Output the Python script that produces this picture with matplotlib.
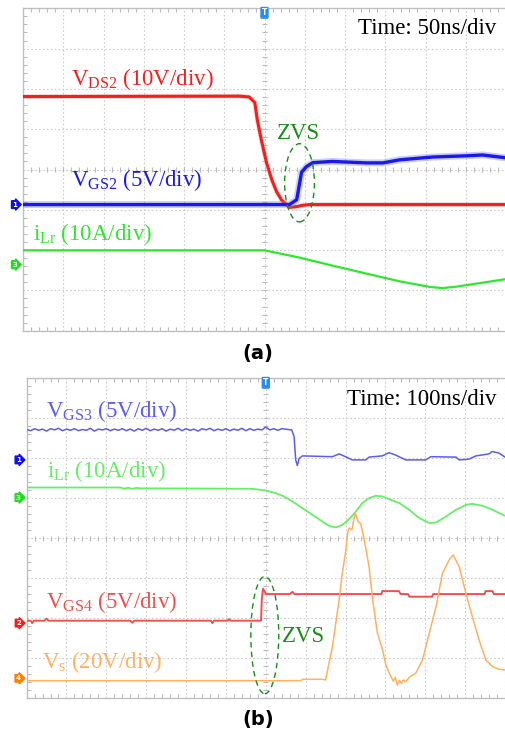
import numpy as np
import matplotlib
matplotlib.use('Agg')
import matplotlib.pyplot as plt
from matplotlib.patches import Ellipse
from matplotlib.ticker import MultipleLocator
import matplotlib.transforms as mtransforms

plt.rcParams['font.family'] = 'Liberation Serif'
plt.rcParams['mathtext.fontset'] = 'custom'
plt.rcParams['mathtext.rm'] = 'Liberation Serif'
plt.rcParams['mathtext.it'] = 'Liberation Serif:italic'

# ---- panel (a): 50 ns/div ----
t_vds2 = [-300, -31, -19, -12, -9, -4, 2.5, 9, 15, 21, 27, 31, 40, 47, 56, 300]
v_vds2 = [26.8, 26.9, 26.7, 25.3, 21.1, 16.1, 10.4, 6.2, 3.2, 1.2, 0, -0.7, -0.5, -0.2, 0, 0]

t_vgs2 = [-300, 31, 40, 46, 52, 60, 84, 127, 147, 168, 209, 251, 271, 300]
v_vgs2 = [0, 0, 0.6, 4.0, 4.7, 5.2, 5.35, 5.17, 5.17, 5.55, 5.9, 6.05, 6.15, 5.8]

t_ilr_a = [-300, 0, 43.5, 84.5, 126.7, 167.7, 205, 221, 238.5, 300]
i_ilr_a = [3.55, 3.55, 1.74, -0.25, -2.23, -4.14, -5.53, -5.83, -5.46, -3.6]

# ---- panel (b): 100 ns/div ----
t_vgs3 = [-600, -590, -580, -570, -560, -550, -540, -530, -520, -510, -500, -490,
          -480, -470, -460, -450, -440, -430, -420, -410, -400, -390, -380, -370,
          -360, -350, -340, -330, -320, -310, -300, -290, -280, -270, -260, -250,
          -240, -230, -220, -210, -200, -190, -180, -170, -160, -150, -140, -130,
          -120, -110, -100, -90, -80, -70, -60, -50, -40, -30, -20, -10, 0, 10, 20, 30, 40, 50,
          65, 71, 75, 79, 84, 92,
          167, 184, 200, 217, 251, 259, 292, 309, 326, 351, 401, 414, 477, 485,
          510, 527, 560, 568, 585, 600]
v_vgs3 = [3.8, 3.65, 3.9, 3.7, 3.85, 3.6, 3.9, 3.75, 3.95, 3.65, 3.85, 3.7,
          3.9, 3.65, 3.8, 3.7, 3.95, 3.6, 3.85, 3.75, 3.9, 3.65, 3.85, 3.7,
          3.9, 3.65, 3.85, 3.6, 3.9, 3.7, 3.95, 3.65, 3.85, 3.7, 3.9, 3.6,
          3.85, 3.7, 3.95, 3.65, 3.9, 3.7, 3.85, 3.6, 3.9, 3.75, 3.95, 3.65,
          3.85, 3.7, 3.9, 3.65, 3.85, 3.7, 3.95, 3.65, 3.9, 3.7, 3.85, 3.75, 4.1, 3.75, 3.9, 3.7, 3.9, 3.84,
          3.75, 2.9, 0, -0.7, 0.2, 0.5,
          0.4, 0.75, 0.4, 0, 0, 0.35, 0.5, 0.9, 0.6, 0, 0, 0.4, 0.35, 0,
          0.1, 0.5, 0.75, 1.05, 0.85, 0.35]

t_ilr_b = [-600, -365, -355, -345, -335, -325, -318, -34, 0, 25, 42, 67, 92, 117,
           142, 159, 176, 192, 209, 226, 242, 259, 276, 293, 309, 335, 360, 385,
           410, 427, 452, 477, 502, 518, 544, 569, 598]
i_ilr_b = [2.5, 2.5, 2.2, 2.45, 2.15, 2.4, 2.3, 2.18, 1.75, 1.1, 0.43, -1.0, -2.65, -4.33,
           -6.0, -7.08, -7.5, -6.83, -5.4, -3.5, -1.4, -0.15, 0.43, 0.25, -0.4, -1.4, -3.08, -5.15,
           -6.4, -6.25, -4.75, -3.08, -1.83, -1.58, -2.08, -3.08, -4.5]

t_vgs4 = [-600, -590, -586, -582, -555, -550, -545, -340, -335, -330, -138, -134, -130,
          -96, -92, -88, -12, -10, -7, -3, 0, 60, 67, 72, 290, 292, 334, 338, 357, 360,
          417, 420, 549, 551, 569, 572, 600]
v_vgs4 = [0.3, 0.3, 0.0, 0.3, 0.3, 0.55, 0.3, 0.3, 0.05, 0.3, 0.3, 0.0, 0.3,
          0.3, 0.5, 0.3, 0.3, 3.0, 4.3, 4.0, 3.63, 3.63, 3.9, 3.63, 3.63, 4.0, 4.0, 3.63, 3.63, 3.3,
          3.3, 3.63, 3.63, 4.0, 4.0, 3.63, 3.63]

t_vs = [-600, 88, 92, 142, 150, 154, 167, 184, 192, 201, 205, 209, 216, 224, 232, 238,
        247, 259, 268, 280, 293, 301, 314, 320, 325, 330, 335, 340, 345, 351, 360, 376,
        393, 410, 427, 443, 460, 470, 485, 502, 518, 535, 552, 569, 585, 598]
v_vs = [-1.2, -1.2, -0.5, -0.5, -0.85, 3.2, 15.8, 39.2, 52.7, 64.2, 72.5, 75.2, 74.2, 82.8, 78.2, 77.5,
        69.2, 55.8, 39.2, 22.5, 14.2, 6.7, 0.8, -1.5, 0.5, -3.4, -1.0, -2.5, -0.8, -1.7, 0.5, 2.5,
        9.2, 22.5, 35.8, 52.5, 59.2, 61.7, 55.8, 42.5, 30.8, 19.2, 9.2, 5.8, 4.5, 4.2]


def scr(v, off, scale):
    # value -> screen divisions
    return off + np.asarray(v, dtype=float) / scale


def scope(ax, tdiv):
    ax.set_xlim(-6 * tdiv, 6 * tdiv)
    ax.set_ylim(0, 8)
    ax.xaxis.set_major_locator(MultipleLocator(tdiv))
    ax.yaxis.set_major_locator(MultipleLocator(1))
    ax.xaxis.set_minor_locator(MultipleLocator(tdiv / 5))
    ax.yaxis.set_minor_locator(MultipleLocator(0.2))
    ax.tick_params(which='both', direction='in', top=True, right=False,
                   labelbottom=False, labelleft=False, color='#bbbbbb', width=0.8)
    ax.tick_params(which='major', length=0)
    ax.tick_params(which='minor', length=3)
    ax.grid(True, which='major', color='#cccccc', ls=(0, (1.5, 2)), lw=0.8)
    for s in ['left', 'top', 'bottom']:
        ax.spines[s].set_color('#c0c0c0')
        ax.spines[s].set_linewidth(1.0)
    ax.spines['right'].set_visible(False)
    # ticks on centre cross
    xm = np.arange(-6 * tdiv, 6 * tdiv + 0.1, tdiv / 5)
    ax.vlines(xm, 3.94, 4.06, color='#bbbbbb', lw=0.8)
    ym = np.arange(0, 8.01, 0.2)
    ax.hlines(ym, -tdiv * 0.06, tdiv * 0.06, color='#bbbbbb', lw=0.8)
    ax.text(0, 8.0, 'T', ha='center', va='top', color='white', fontsize=5.5,
            fontweight='bold', family='DejaVu Sans',
            bbox=dict(boxstyle='round,pad=0.2', fc='#2b8cf0', ec='none'), zorder=6)


def marker(ax, y, num, col):
    tr = mtransforms.blended_transform_factory(ax.transAxes, ax.transData)
    ax.text(-0.012, y, num, transform=tr, ha='right', va='center', color='white',
            fontsize=5, fontweight='bold', family='DejaVu Sans', clip_on=False,
            bbox=dict(boxstyle='rarrow,pad=0.12', fc=col, ec=col))


fig = plt.figure(figsize=(5.05, 7.38), dpi=100)
W, H = 505.0, 738.0

# panel (a)
axa = fig.add_axes([23 / W, (H - 330.7) / H, 483 / W, 322.4 / H])
scope(axa, 50)
off1a, off3a = 3.13, 1.64
axa.plot(t_vds2, scr(v_vds2, off1a, 10), color='#f06060', lw=3.5, alpha=0.25, zorder=3)
axa.plot(t_vds2, scr(v_vds2, off1a, 10), color='#f02020', lw=2.2, zorder=3)
axa.plot(t_vgs2, scr(v_vgs2, off1a, 5), color='#8080ff', lw=5.0, alpha=0.4, zorder=4)
axa.plot(t_vgs2, scr(v_vgs2, off1a, 5), color='#1a1ae6', lw=2.4, zorder=4)
axa.plot(t_ilr_a, scr(i_ilr_a, off3a, 10), color='#2ee82e', lw=1.6, zorder=3)
marker(axa, off1a, '1', '#1010e0')
marker(axa, off3a, '3', '#20dd20')

fs = 16.5
axa.text(-240, 6.1, 'V$_{\\mathrm{DS2}}$ (10V/div)', color='#f02020', fontsize=fs, va='baseline')
axa.text(-240, 3.58, 'V$_{\\mathrm{GS2}}$ (5V/div)', color='#1a1ae6', fontsize=fs, va='baseline')
axa.text(-288, 2.24, 'i$_{\\mathrm{Lr}}$ (10A/div)', color='#2ee82e', fontsize=fs, va='baseline')
axa.text(288, 7.36, 'Time: 50ns/div', color='black', fontsize=fs, ha='right', va='baseline')
axa.text(16, 4.76, 'ZVS', color='#1a8c1a', fontsize=fs, va='baseline')
axa.add_patch(Ellipse((43.5, 3.67), 37, 1.94, fill=False, ec='#1a8c1a', ls=(0, (4, 3)), lw=1.0, zorder=5))

# panel (b)
axb = fig.add_axes([26.6 / W, (H - 698.3) / H, 478.4 / W, 320 / H])
scope(axb, 100)
off1b, off3b, off2b, off4b = 5.96, 5.02, 1.88, 0.5
axb.plot(t_vgs3, scr(v_vgs3, off1b, 5), color='#5c5cf0', lw=1.1, zorder=3)
axb.plot(t_ilr_b, scr(i_ilr_b, off3b, 10), color='#66ee66', lw=1.3, zorder=3)
axb.plot(t_vgs4, scr(v_vgs4, off2b, 5), color='#f05050', lw=1.4, zorder=3)
axb.plot(t_vs, scr(v_vs, off4b, 20), color='#ffb060', lw=1.1, zorder=3)
marker(axb, off1b, '1', '#1010e0')
marker(axb, off3b, '3', '#20dd20')
marker(axb, off2b, '2', '#ff1a1a')
marker(axb, off4b, '4', '#ff8000')

axb.text(-551, 7.04, 'V$_{\\mathrm{GS3}}$ (5V/div)', color='#5c5cf0', fontsize=fs, va='baseline')
axb.text(-549, 5.53, 'i$_{\\mathrm{Lr}}$ (10A/div)', color='#66ee66', fontsize=fs, va='baseline')
axb.text(-551, 2.25, 'V$_{\\mathrm{GS4}}$ (5V/div)', color='#f05050', fontsize=fs, va='baseline')
axb.text(-561, 0.75, 'V$_{\\mathrm{s}}$ (20V/div)', color='#ffb060', fontsize=fs, va='baseline')
axb.text(578, 7.33, 'Time: 100ns/div', color='black', fontsize=fs, ha='right', va='baseline')
axb.text(41, 1.42, 'ZVS', color='#1a8c1a', fontsize=fs, va='baseline')
axb.add_patch(Ellipse((-2.5, 1.58), 70, 2.93, fill=False, ec='#1a8c1a', ls=(0, (4, 3)), lw=1.0, zorder=5))

fig.text(257.5 / W, 1 - 353 / H, '(a)', ha='center', va='center', fontsize=14,
         fontweight='bold', family='DejaVu Sans')
fig.text(258 / W, 1 - 720 / H, '(b)', ha='center', va='center', fontsize=14,
         fontweight='bold', family='DejaVu Sans')

fig.savefig('out.png', dpi=100)
